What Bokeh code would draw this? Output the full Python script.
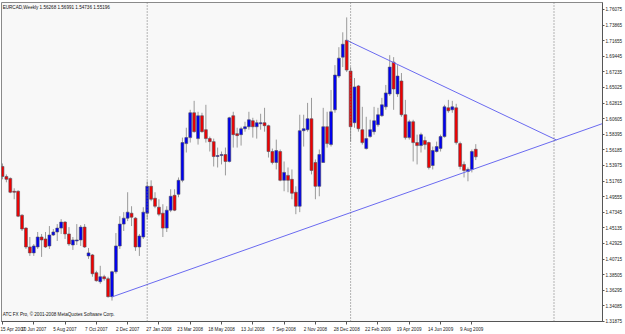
from bokeh.plotting import figure
from bokeh.models import (Range1d, FixedTicker, Span, Label, ColumnDataSource,
                          PrintfTickFormatter)
from bokeh.embed import file_html
from bokeh.resources import INLINE

symbol = "EURCAD,Weekly"

opens = [1.5383, 1.5242, 1.5214, 1.5032, 1.5032, 1.4693, 1.4510, 1.4243, 1.4159, 1.4243,
         1.4384, 1.4356, 1.4257, 1.4412, 1.4455, 1.4510, 1.4595, 1.4427, 1.4271, 1.4328,
         1.4342, 1.4524, 1.4116, 1.4130, 1.3878, 1.3751, 1.3821, 1.3793, 1.3539, 1.3892,
         1.4257, 1.4567, 1.4651, 1.4721, 1.4651, 1.4243, 1.4384, 1.4721, 1.5102, 1.4933,
         1.4806, 1.4721, 1.4510, 1.4764, 1.4975, 1.4989, 1.5187, 1.5707, 1.5792, 1.6144,
         1.5778, 1.6102, 1.5904, 1.5778, 1.5735, 1.5524, 1.5538, 1.5552, 1.5454, 1.6102,
         1.5848, 1.5834, 1.5918, 1.5946, 1.6031, 1.5946, 1.5989, 1.6003, 1.5961, 1.5595,
         1.5440, 1.5595, 1.5187, 1.5257, 1.5201, 1.5018, 1.4820, 1.5890, 1.5904, 1.6059,
         1.5440, 1.5102, 1.5440, 1.5946, 1.5693, 1.6186, 1.6664, 1.6932, 1.7171, 1.6735,
         1.6003, 1.6524, 1.5904, 1.5637, 1.5806, 1.5876, 1.5975, 1.6102, 1.6228, 1.6411,
         1.6861, 1.6411, 1.6594, 1.6116, 1.5792, 1.6017, 1.5721, 1.5679, 1.5750, 1.5721,
         1.5397, 1.5595, 1.5637, 1.5806, 1.6214, 1.6186, 1.6214, 1.5707, 1.5412, 1.5313,
         1.5341, 1.56268]
highs = [1.5426, 1.5271, 1.5228, 1.5074, 1.5046, 1.4707, 1.4524, 1.4384, 1.4285, 1.4455,
         1.4427, 1.4455, 1.4539, 1.4497, 1.4567, 1.4637, 1.4609, 1.4524, 1.4384, 1.4567,
         1.4553, 1.4567, 1.4229, 1.4144, 1.3906, 1.3976, 1.3849, 1.3821, 1.3906, 1.4440,
         1.4679, 1.4736, 1.5018, 1.4820, 1.4665, 1.4427, 1.4806, 1.5173, 1.5187, 1.5018,
         1.4919, 1.4848, 1.4820, 1.5060, 1.5060, 1.5228, 1.5792, 1.5932, 1.6186, 1.6313,
         1.6158, 1.6144, 1.6257, 1.5806, 1.5778, 1.5651, 1.5595, 1.5651, 1.6087, 1.6158,
         1.5932, 1.5946, 1.6017, 1.6158, 1.6073, 1.6045, 1.6130, 1.6214, 1.5975, 1.5637,
         1.5764, 1.5623, 1.5454, 1.5369, 1.5341, 1.5102, 1.6116, 1.6116, 1.6284, 1.6355,
         1.5482, 1.5623, 1.6214, 1.6158, 1.6467, 1.6819, 1.7073, 1.7284, 1.7495, 1.6791,
         1.6636, 1.6538, 1.6228, 1.6087, 1.6045, 1.6228, 1.6214, 1.6355, 1.6538, 1.6960,
         1.6932, 1.6819, 1.6707, 1.6327, 1.6045, 1.6045, 1.5834, 1.5862, 1.5806, 1.5735,
         1.5665, 1.5735, 1.5834, 1.6257, 1.6327, 1.6313, 1.6271, 1.5735, 1.5454, 1.5369,
         1.5623, 1.56991]
lows = [1.5201, 1.5159, 1.5004, 1.4919, 1.4665, 1.4469, 1.4215, 1.4116, 1.4116, 1.4215,
        1.4102, 1.4229, 1.4215, 1.4398, 1.4328, 1.4427, 1.4356, 1.4257, 1.4201, 1.4271,
        1.4257, 1.4229, 1.4074, 1.3821, 1.3751, 1.3722, 1.3765, 1.3525, 1.3483, 1.3864,
        1.4215, 1.4469, 1.4609, 1.4539, 1.4187, 1.4116, 1.4356, 1.4637, 1.4891, 1.4792,
        1.4679, 1.4384, 1.4455, 1.4736, 1.4750, 1.4947, 1.5159, 1.5581, 1.5722, 1.5862,
        1.5693, 1.5862, 1.5722, 1.5595, 1.5383, 1.5369, 1.5412, 1.5257, 1.5440, 1.5651,
        1.5651, 1.5679, 1.5876, 1.5904, 1.5792, 1.5778, 1.5904, 1.5876, 1.5510, 1.5412,
        1.5341, 1.5173, 1.5032, 1.5018, 1.4919, 1.4707, 1.4736, 1.5665, 1.5876, 1.5271,
        1.4919, 1.4961, 1.5440, 1.5651, 1.5665, 1.6144, 1.6636, 1.6791, 1.6721, 1.5735,
        1.5932, 1.5876, 1.5693, 1.5623, 1.5792, 1.5834, 1.5946, 1.6087, 1.6186, 1.6383,
        1.6186, 1.6369, 1.6087, 1.5764, 1.5764, 1.5454, 1.5412, 1.5581, 1.5623, 1.5341,
        1.5341, 1.5581, 1.5595, 1.5792, 1.6144, 1.6144, 1.5693, 1.5341, 1.5228, 1.5173,
        1.5299, 1.54736]
closes = [1.5242, 1.5201, 1.5018, 1.5018, 1.4679, 1.4497, 1.4243, 1.4159, 1.4257, 1.4384,
          1.4342, 1.4243, 1.4412, 1.4455, 1.4510, 1.4595, 1.4427, 1.4285, 1.4342, 1.4342,
          1.4524, 1.4243, 1.4159, 1.3864, 1.3765, 1.3821, 1.3793, 1.3539, 1.3892, 1.4257,
          1.4567, 1.4651, 1.4736, 1.4665, 1.4243, 1.4398, 1.4736, 1.5102, 1.4919, 1.4820,
          1.4707, 1.4510, 1.4764, 1.4961, 1.4764, 1.5187, 1.5722, 1.5792, 1.6144, 1.5876,
          1.6102, 1.5876, 1.5778, 1.5735, 1.5524, 1.5538, 1.5552, 1.5454, 1.6073, 1.5834,
          1.5820, 1.5918, 1.5946, 1.6045, 1.5946, 1.6003, 1.6003, 1.5961, 1.5595, 1.5440,
          1.5609, 1.5187, 1.5299, 1.5187, 1.5004, 1.4820, 1.5890, 1.5918, 1.6059, 1.5327,
          1.5102, 1.5552, 1.5946, 1.5707, 1.6158, 1.6678, 1.6918, 1.7115, 1.6749, 1.5946,
          1.6510, 1.5918, 1.5721, 1.5778, 1.5904, 1.6031, 1.6116, 1.6257, 1.6425, 1.6791,
          1.6481, 1.6664, 1.6116, 1.5792, 1.6017, 1.5721, 1.5679, 1.5834, 1.5693, 1.5369,
          1.5609, 1.5665, 1.5806, 1.6228, 1.6172, 1.6228, 1.5721, 1.5383, 1.5327, 1.5341,
          1.5595, 1.55196]

date_tick_bars = [0, 8, 16, 24, 32, 40, 48, 56, 64, 72, 80, 88, 96, 104, 112, 120]
date_tick_labels = ["15 Apr 2007", "10 Jun 2007", "5 Aug 2007", "7 Oct 2007", "2 Dec 2007",
                    "27 Jan 2008", "23 Mar 2008", "18 May 2008", "13 Jul 2008", "7 Sep 2008",
                    "2 Nov 2008", "28 Dec 2008", "22 Feb 2009", "19 Apr 2009", "14 Jun 2009",
                    "9 Aug 2009"]
price_ticks = [1.76075, 1.73865, 1.71655, 1.69445, 1.67235, 1.65025, 1.62815, 1.60605,
               1.58395, 1.56185, 1.53975, 1.51765, 1.49555, 1.47345, 1.45135, 1.42925,
               1.40715, 1.38505, 1.36295, 1.34085, 1.31875]
year_start_bars = [37, 89, 141]

support_bars = [28, 155]
support_prices = [1.3535, 1.6022]
resistance_bars = [88, 141.6]
resistance_prices = [1.7171, 1.5759]

copyright_text = "ATC FX Pro, \u00a9 2001-2008 MetaQuotes Software Corp."

n = len(opens)
xs = list(range(n))
bull = [c >= o for o, c in zip(opens, closes)]
src = ColumnDataSource(dict(
    x=xs, high=highs, low=lows,
    top=[max(o, c) for o, c in zip(opens, closes)],
    bot=[min(o, c) for o, c in zip(opens, closes)],
    fill=["#0000F0" if b else "#F00000" for b in bull],
))

x0, x1 = -0.25, 153.4
y0, y1 = 1.3187, 1.7706
FONT = "Liberation Sans"
FS = "4.6px"

p = figure(width=625, height=334, output_backend="svg", toolbar_location=None,
           x_range=Range1d(x0, x1), y_range=Range1d(y0, y1),
           x_axis_location="below", y_axis_location="right",
           min_border_left=1, min_border_right=21, min_border_top=2, min_border_bottom=11)
p.background_fill_color = "#F8F8F8"
p.border_fill_color = "#FFFFFF"
p.outline_line_color = "#8A8A8A"
p.xgrid.visible = False
p.ygrid.visible = False

xa = p.xaxis[0]
xa.ticker = FixedTicker(ticks=date_tick_bars)
xa.major_label_overrides = {b: t for b, t in zip(date_tick_bars, date_tick_labels)}
xa.major_label_text_align = "left"
xa.major_label_text_font = FONT
xa.major_label_text_font_size = FS
xa.major_label_text_color = "#222222"
xa.major_label_standoff = 2
xa.major_tick_out = 3
xa.major_tick_in = 0
xa.minor_tick_out = 0
xa.minor_tick_in = 0
xa.axis_line_color = "#555555"
xa.major_tick_line_color = "#555555"

ya = p.yaxis[0]
ya.ticker = FixedTicker(ticks=price_ticks)
ya.formatter = PrintfTickFormatter(format="%.5f")
ya.major_label_text_font = FONT
ya.major_label_text_font_size = FS
ya.major_label_text_color = "#222222"
ya.major_label_standoff = 1
ya.major_tick_out = 2
ya.major_tick_in = 0
ya.minor_tick_out = 0
ya.minor_tick_in = 0
ya.axis_line_color = "#555555"
ya.major_tick_line_color = "#555555"

for b in year_start_bars:
    p.add_layout(Span(location=b, dimension="height", line_color="#707070",
                      line_dash="1 2", line_width=1))

p.segment(x0="x", y0="low", x1="x", y1="high", source=src, line_color="#9A9A9A", line_width=1)
p.vbar(x="x", width=0.74, top="top", bottom="bot", source=src,
       fill_color="fill", line_color="#505060", line_width=0.6)

p.line(support_bars, support_prices, line_color="#6A6AF0", line_width=1)
p.line(resistance_bars, resistance_prices, line_color="#6A6AF0", line_width=1)

title = "%s  %.5f %.5f %.5f %.5f" % (symbol, opens[-1], highs[-1], lows[-1], closes[-1])
p.add_layout(Label(x=x0 + 0.3, y=y1, y_offset=-2, text=title, text_font=FONT,
                   text_font_size=FS, text_color="#111111", text_baseline="top"))
p.add_layout(Label(x=x0 + 0.3, y=y0, y_offset=5, text=copyright_text, text_font=FONT,
                   text_font_size=FS, text_color="#111111", text_baseline="bottom"))
p.add_layout(Label(x=x1, y=closes[-1], x_offset=1, text="%.5f" % closes[-1], text_font=FONT,
                   text_font_size=FS, text_color="#FFFFFF", text_baseline="middle",
                   background_fill_color="#000000", padding=1))

open("out.html", "w").write(file_html(p, INLINE))
